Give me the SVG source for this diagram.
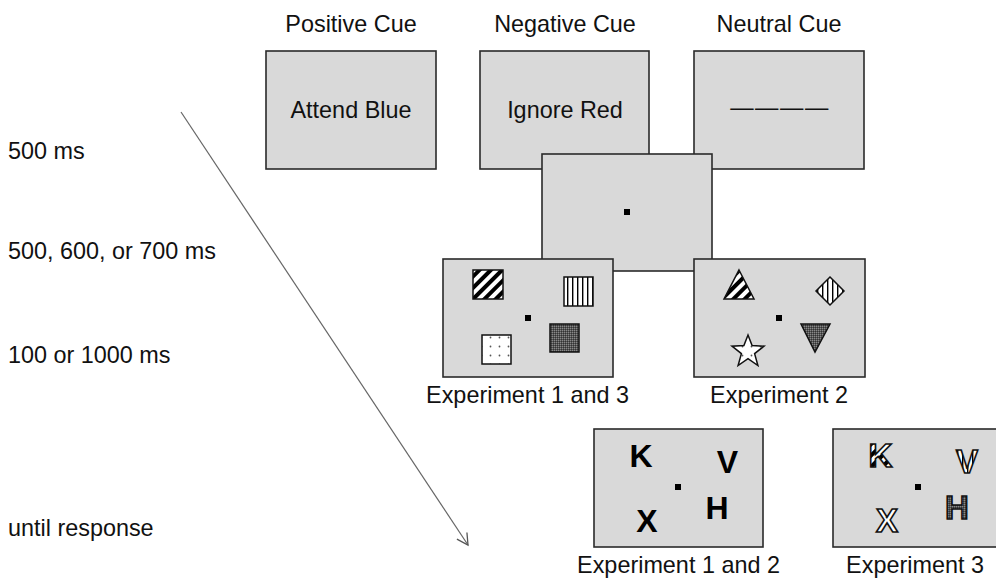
<svg xmlns="http://www.w3.org/2000/svg" width="996" height="588" viewBox="0 0 996 588">
<style>
.lbl{font-family:"Liberation Sans",Arial,sans-serif;font-size:23.4px;fill:#111}
.mid{text-anchor:middle}
.box{fill:#d9d9d9;stroke:#2a2a2a;stroke-width:1.6}
.dot{fill:#000}
.shp{stroke:#111;stroke-width:1.5}
.let{font-family:"Liberation Sans",Arial,sans-serif;font-weight:bold;font-size:32px;text-anchor:middle;fill:#000}
.plet{font-family:"Liberation Sans",Arial,sans-serif;font-weight:bold;font-size:33px;text-anchor:middle;stroke:#111;stroke-width:1.6}
</style>
<defs>
<pattern id="diag" patternUnits="userSpaceOnUse" width="8" height="8" patternTransform="rotate(45)">
<rect width="8" height="8" fill="#fff"/><rect width="4" height="8" fill="#000"/>
</pattern>
<pattern id="vstr" patternUnits="userSpaceOnUse" width="5" height="5">
<rect width="5" height="5" fill="#fff"/><rect x="2" width="1.4" height="5" fill="#000"/>
</pattern>
<pattern id="dots" patternUnits="userSpaceOnUse" width="9" height="9">
<rect width="9" height="9" fill="#fff"/><circle cx="4.5" cy="4.5" r="0.9" fill="#555"/>
</pattern>
<pattern id="dark" patternUnits="userSpaceOnUse" width="2" height="2">
<rect width="2" height="2" fill="#555"/><rect width="1" height="1" fill="#888"/><rect x="1" y="1" width="1" height="1" fill="#333"/>
</pattern>
<marker id="arr" markerUnits="userSpaceOnUse" markerWidth="14" markerHeight="14" refX="12" refY="7" orient="auto">
<path d="M1,1 L12,7 L1,13" fill="none" stroke="#555" stroke-width="1.3"/>
</marker>
</defs>

<g id="time-labels">
<text class="lbl" x="8" y="159">500 ms</text>
<text class="lbl" x="8" y="259">500, 600, or 700 ms</text>
<text class="lbl" x="8" y="363">100 or 1000 ms</text>
<text class="lbl" x="8" y="536">until response</text>
</g>

<g id="connectors">
<line x1="181" y1="112" x2="468" y2="545" stroke="#666" stroke-width="1.2" marker-end="url(#arr)"/>
</g>

<g id="positive-cue">
<text class="lbl mid" x="351" y="32">Positive Cue</text>
<rect class="box" x="266" y="51" width="170" height="118"/>
<text class="lbl mid" x="351" y="118">Attend Blue</text>
</g>

<g id="negative-cue">
<text class="lbl mid" x="565" y="32">Negative Cue</text>
<rect class="box" x="480" y="51" width="169" height="118"/>
<text class="lbl mid" x="565" y="118">Ignore Red</text>
</g>

<g id="neutral-cue">
<text class="lbl mid" x="779" y="32">Neutral Cue</text>
<rect class="box" x="694" y="51" width="170" height="118"/>
<text class="lbl mid" x="780" y="115" style="letter-spacing:1.5px">————</text>
</g>

<g id="fixation">
<rect class="box" x="542" y="154" width="170" height="117"/>
<rect class="dot" x="624" y="209" width="6" height="6"/>
</g>

<g id="exp1-display">
<rect class="box" x="443" y="259" width="170" height="118"/>
<rect class="shp" x="473" y="270" width="30" height="29" fill="url(#diag)"/>
<rect class="shp" x="564" y="277" width="29" height="29" fill="url(#vstr)"/>
<rect class="dot" x="525" y="315" width="6" height="6"/>
<rect class="shp" x="482" y="335" width="29" height="29" fill="url(#dots)"/>
<rect class="shp" x="550" y="324" width="29" height="28" fill="url(#dark)"/>
<text class="lbl mid" x="527.5" y="403">Experiment 1 and 3</text>
</g>

<g id="exp2-display">
<rect class="box" x="694" y="259" width="171" height="118"/>
<polygon class="shp" points="739,270 754,299 724,299" fill="url(#diag)"/>
<polygon class="shp" points="830,277 844,291 830,305 816,291" fill="url(#vstr)"/>
<rect class="dot" x="776" y="315" width="6" height="6"/>
<polygon class="shp" points="801,324 830,324 815,352" fill="url(#dark)"/>
<polygon class="shp" points="748,335 752.1,345.6 764,346.2 754.6,353.6 757.9,365.5 748,358.6 738.1,365.5 741.4,353.6 732,346.2 743.9,345.6" fill="url(#dots)"/>
<text class="lbl mid" x="779" y="403">Experiment 2</text>
</g>

<g id="letters-exp12">
<rect class="box" x="594" y="429" width="169" height="118"/>
<text class="let" x="641" y="467">K</text>
<text class="let" x="727.5" y="473">V</text>
<text class="let" x="647" y="532">X</text>
<text class="let" x="717" y="519">H</text>
<rect class="dot" x="675" y="484" width="6" height="6"/>
<text class="lbl mid" x="678.5" y="573">Experiment 1 and 2</text>
</g>

<g id="letters-exp3">
<rect class="box" x="833" y="429" width="170" height="118"/>
<text class="plet" x="880.5" y="467" fill="url(#diag)">K</text>
<text class="plet" x="967" y="473" fill="url(#vstr)">V</text>
<text class="plet" x="887" y="532" fill="url(#dots)">X</text>
<text class="plet" x="957" y="519" fill="url(#dark)">H</text>
<rect class="dot" x="915" y="484" width="6" height="6"/>
<text class="lbl mid" x="915" y="573">Experiment 3</text>
</g>
</svg>
